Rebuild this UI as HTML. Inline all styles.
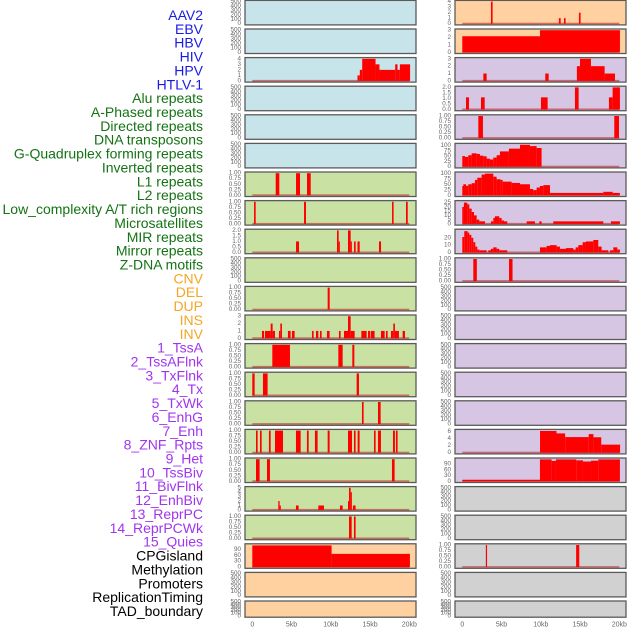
<!DOCTYPE html>
<html><head><meta charset="utf-8">
<style>
html,body{margin:0;padding:0;background:#fff;}
svg{display:block;font-family:"Liberation Sans",sans-serif;}
</style></head>
<body>
<svg id="chart" width="630" height="630" viewBox="0 0 630 630"></svg>
<script>
// ---- data (segments: [startKb, endKb, value]) ----
const labels = ["AAV2","EBV","HBV","HIV","HPV","HTLV-1","Alu repeats","A-Phased repeats","Directed repeats","DNA transposons","G-Quadruplex forming repeats","Inverted repeats","L1 repeats","L2 repeats","Low_complexity A/T rich regions","Microsatellites","MIR repeats","Mirror repeats","Z-DNA motifs","CNV","DEL","DUP","INS","INV","1_TssA","2_TssAFlnk","3_TxFlnk","4_Tx","5_TxWk","6_EnhG","7_Enh","8_ZNF_Rpts","9_Het","10_TssBiv","11_BivFlnk","12_EnhBiv","13_ReprPC","14_ReprPCWk","15_Quies","CPGisland","Methylation","Promoters","ReplicationTiming","TAD_boundary"];
const labelGroups = ["virus","virus","virus","virus","virus","virus","rep","rep","rep","rep","rep","rep","rep","rep","rep","rep","rep","rep","rep","sv","sv","sv","sv","sv","cs","cs","cs","cs","cs","cs","cs","cs","cs","cs","cs","cs","cs","cs","cs","other","other","other","other","other"];
const xTicks = [0,5,10,15,20];
const xTickLabels = ["0","5kb","10kb","15kb","20kb"];

const L2 = [[13.4,13.7,1],[13.7,14.0,2],[14.0,15.7,4],[15.7,16.2,3],[16.2,18.2,2],[18.2,18.5,3],[18.5,18.8,2],[18.8,20.1,3]];
const L6 = [[2.98,3.44,1],[5.57,6.08,1],[6.97,7.44,1]];
const L7 = [[0.22,0.43,1],[6.59,6.84,1],[17.8,18.0,1],[19.58,19.8,1]];
const L8 = [[5.57,5.95,1],[10.79,11.0,2],[11.0,11.1,1],[12.19,12.53,2],[12.53,12.66,1],[12.96,13.17,1],[13.4,13.68,1],[16.14,16.4,1]];
const L10 = [[9.6,9.86,1]];
const L11 = [[1.23,1.49,1],[1.61,2.34,1],[2.34,2.59,2],[2.59,2.89,1],[3.40,3.57,1],[3.57,3.78,2],[4.54,4.88,1],[5.05,5.39,1],[7.60,7.81,1],[8.11,8.41,1],[8.62,8.83,1],[9.51,9.85,1],[11.04,11.25,1],[11.68,12.19,1],[12.19,12.53,3],[12.53,13.04,1],[13.89,14.57,1],[14.74,14.99,1],[15.08,15.58,1],[16.39,16.86,1],[17.03,17.24,1],[17.66,17.96,1],[17.96,18.17,2],[18.17,18.68,1],[19.15,19.45,1]];
const L12 = [[2.55,4.80,1],[10.96,11.51,1],[12.74,13.0,1]];
const L13 = [[0,0.3,1],[1.36,1.95,1],[13.29,13.59,1]];
const L14 = [[13.97,14.18,1],[16.01,16.35,1]];
const L15 = [[0.47,0.68,1],[0.98,1.19,1],[2.12,2.34,1],[2.89,3.91,1],[5.56,6.16,1],[6.96,7.18,1],[7.98,8.32,1],[9.6,9.85,1],[12.19,12.7,1],[12.95,13.16,1],[13.42,13.67,1],[15.5,15.71,1],[16.01,16.39,1],[17.92,18.17,1],[18.3,18.51,1]];
const L16 = [[0.47,0.93,1],[1.87,2.25,1],[17.79,18.13,1]];
const L17 = [[3.31,3.48,2],[3.48,3.61,1],[5.56,5.90,1],[8.41,9.13,1],[11.17,11.51,1],[12.19,12.32,2],[12.32,12.53,5],[12.53,12.66,4],[12.82,13.16,1]];
const L18 = [[12.32,12.66,1],[12.95,13.16,1]];
const L19 = [[0,10.1,110],[10.1,20.08,67]];

const R0 = [[3.65,3.86,4],[12.3,12.53,1],[12.95,13.16,1],[14.86,15.07,2]];
const R1 = [[0,9.9,2.18],[9.9,20.08,3]];
const R2 = [[2.68,3.1,1],[10.57,11.0,1],[14.6,14.99,2],[14.99,16.39,3],[16.39,18.13,2],[18.13,19.45,1]];
const R3 = [[0.47,0.85,1.1],[2.38,2.85,1.1],[10.02,10.87,1.1],[14.35,14.82,2],[18.68,19.15,1.1],[19.15,20.08,2]];
const R4 = [[2.04,2.63,1],[19.36,19.96,1]];
const R5 = [[0,0.34,50],[0.34,0.76,46],[0.76,1.19,54],[1.19,1.83,63],[1.83,2.25,60],[2.25,2.68,52],[2.68,3.1,49],[3.1,3.52,38],[3.52,3.95,34],[3.95,4.37,43],[4.37,4.8,54],[4.8,5.94,72],[5.94,7.35,85],[7.35,8.62,103],[8.62,9.47,97],[9.47,10.1,88]];
const R6 = [[0,0.13,43],[0.13,0.47,51],[0.47,0.76,44],[0.76,1.19,51],[1.19,1.61,56],[1.61,1.91,71],[1.91,2.46,81],[2.46,2.89,96],[2.89,3.95,100],[3.95,4.37,86],[4.37,4.88,74],[4.88,5.14,71],[5.14,6.28,63],[6.28,7.35,57],[7.35,8.62,51],[8.62,9.04,29],[9.04,9.47,24],[9.47,9.89,36],[9.89,10.32,43],[10.32,11.17,47],[11.17,17.96,11],[17.96,19.15,16],[19.15,20.08,11]];
const R7 = [[0,0.21,20],[0.21,0.64,25],[0.64,0.89,23],[0.89,1.19,18],[1.19,1.49,14],[1.49,1.83,10],[1.83,2.17,5],[2.17,2.89,3],[3.65,3.95,3],[3.95,4.16,7],[4.16,4.71,9],[4.71,5.01,7],[5.01,5.31,4],[5.31,5.73,3],[8.2,9.26,3],[9.81,10.1,3],[11.59,17.96,3],[18.94,20.08,3]];
const R8 = [[0,0.25,21],[0.25,0.68,29],[0.68,0.89,27],[0.89,1.15,24],[1.15,1.4,20],[1.4,1.66,14],[1.66,1.91,8],[1.91,2.17,4],[2.17,3.1,3],[3.31,3.65,3],[3.65,3.95,5],[3.95,4.37,7],[4.37,4.71,5],[4.71,5.73,3],[9.89,10.74,7],[10.74,11.17,9],[11.17,12.02,10],[12.02,12.44,8],[12.44,13.21,5],[13.21,14.14,6],[14.14,14.44,4],[14.44,14.78,7],[14.78,15.33,10],[15.33,15.75,14],[15.75,16.69,15],[16.69,17.32,17],[17.32,17.75,8],[17.75,18.6,3],[18.81,19.24,3],[19.24,19.75,7],[19.75,20.08,4]];
const R9 = [[1.4,1.85,1],[5.95,6.4,1]];
const R15 = [[9.9,12.0,6.2],[12.0,13.1,5.5],[13.1,16.1,4.45],[16.1,16.7,5.3],[16.7,17.7,4.4],[17.7,20.1,2.3]];
const R16 = [[0,9.89,8],[9.89,11.38,114],[11.38,11.93,106],[11.93,14.52,114],[14.52,15.37,109],[15.37,16.39,103],[16.39,17.32,107],[17.32,20.08,114]];
const R19 = [[3.0,3.15,1],[14.5,14.9,1]];

const T01 = [0,0.25,0.5,0.75,1];
const TEMPTY = [0,100,200,300,400,500];

// per-column track definitions: [segments, ymax, ticks, tickDecimals, bgKey]
const leftTracks = [
 [null,500,TEMPTY,0,"blue"],[null,500,TEMPTY,0,"blue"],[L2,4,[0,1,2,3,4],0,"blue"],
 [null,500,TEMPTY,0,"blue"],[null,500,TEMPTY,0,"blue"],[null,500,TEMPTY,0,"blue"],
 [L6,1,T01,2,"green"],[L7,1,T01,2,"green"],[L8,2,[0,0.5,1,1.5,2],1,"green"],
 [null,500,TEMPTY,0,"green"],[L10,1,T01,2,"green"],[L11,3,[0,1,2,3],0,"green"],
 [L12,1,T01,2,"green"],[L13,1,T01,2,"green"],[L14,1,T01,2,"green"],[L15,1,T01,2,"green"],
 [L16,1,T01,2,"green"],[L17,5,[0,1,2,3,4,5],0,"green"],[L18,1,T01,2,"green"],
 [L19,112,[0,30,60,90],0,"orange"],[null,500,TEMPTY,0,"orange"],[null,500,TEMPTY,0,"orange"]
];
const rightTracks = [
 [R0,4,[0,1,2,3,4],0,"orange"],[R1,3,[0,1,2,3],0,"orange"],[R2,3,[0,1,2,3],0,"purple"],
 [R3,2,[0,0.5,1,1.5,2],1,"purple"],[R4,1,T01,2,"purple"],[R5,104,[0,25,50,75,100],0,"purple"],
 [R6,102,[0,25,50,75,100],0,"purple"],[R7,26,[0,5,10,15,20,25],0,"purple"],[R8,30,[0,10,20],0,"purple"],
 [R9,1,T01,2,"purple"],[null,500,TEMPTY,0,"purple"],[null,500,TEMPTY,0,"purple"],
 [null,500,TEMPTY,0,"purple"],[null,500,TEMPTY,0,"purple"],[null,500,TEMPTY,0,"purple"],
 [R15,6.3,[0,2,4,6],0,"purple"],[R16,115,[0,30,60,90],0,"purple"],
 [null,500,TEMPTY,0,"gray"],[null,500,TEMPTY,0,"gray"],[R19,1,T01,2,"gray"],
 [null,500,TEMPTY,0,"gray"],[null,500,TEMPTY,0,"gray"]
];

// ---- styling / layout ----
const NS = "http://www.w3.org/2000/svg";
const svg = document.getElementById("chart");
const bgColors = {blue:"#c8e4eb",green:"#c9e2a4",orange:"#ffd1a0",purple:"#d6c6e3",gray:"#d1d1d1"};
const labelColors = {virus:"#1a1ae6",rep:"#137313",sv:"#f5a623",cs:"#a035ef",other:"#000000"};
const cols = [{x:245,w:171,x0:252.3,tracks:leftTracks,name:"left"},{x:455,w:171,x0:462.3,tracks:rightTracks,name:"right"}];
const KBPX = 7.85;
function mk(tag, attrs){ const e=document.createElementNS(NS,tag); for(const k in attrs) e.setAttribute(k,attrs[k]); svg.appendChild(e); return e; }
function rowTop(r){ return 0.4 + r*28.6; }
function rowH(r){ return r===21 ? 16.2 : 24.5; }

// labels
labels.forEach((t,i)=>{
  const e = mk("text",{x:203,y:15+i*13.86,"text-anchor":"end","dominant-baseline":"central","font-size":"14",fill:labelColors[labelGroups[i]]});
  e.textContent = t;
  
  
});

cols.forEach(col=>{
  const xs = kb => col.x0 + kb*KBPX;
  col.tracks.forEach((tr,r)=>{
    const [segs,ymax,ticks,dec,bg] = tr;
    const top = rowTop(r), h = rowH(r), bot = top+h;
    const ys = v => bot - 1.2 - v/ymax*(h-2.4);
    const p = mk("rect",{x:col.x,y:top,width:col.w,height:h,fill:bgColors[bg],stroke:"#5a5a5a","stroke-width":"1.3"});
    
    
    ticks.forEach(v=>{
      const t = mk("text",{x:col.x-4,y:ys(v),"text-anchor":"end","dominant-baseline":"central","font-size":"6.3",fill:"#666"});
      t.textContent = v.toFixed(dec);
      
      
    });
    if(segs){
      const bl = mk("rect",{x:xs(0),y:ys(0)-1,width:xs(20)-xs(0),height:1.6,fill:"rgba(190,40,40,0.6)"});
      
      
      segs.forEach(s=>{
        const b = mk("rect",{x:xs(s[0]),y:ys(s[2]),width:Math.max(xs(s[1])-xs(s[0]),1.2),height:ys(0)-ys(s[2]),fill:"#ff0000"});
        
        
      });
    }
  });
  xTicks.forEach((v,i)=>{
    const t = mk("text",{x:xs(v),y:625,"text-anchor":"middle","dominant-baseline":"central","font-size":"7",fill:"#666"});
    t.textContent = xTickLabels[i];
    
    
  });
});
</script>
</body></html>
